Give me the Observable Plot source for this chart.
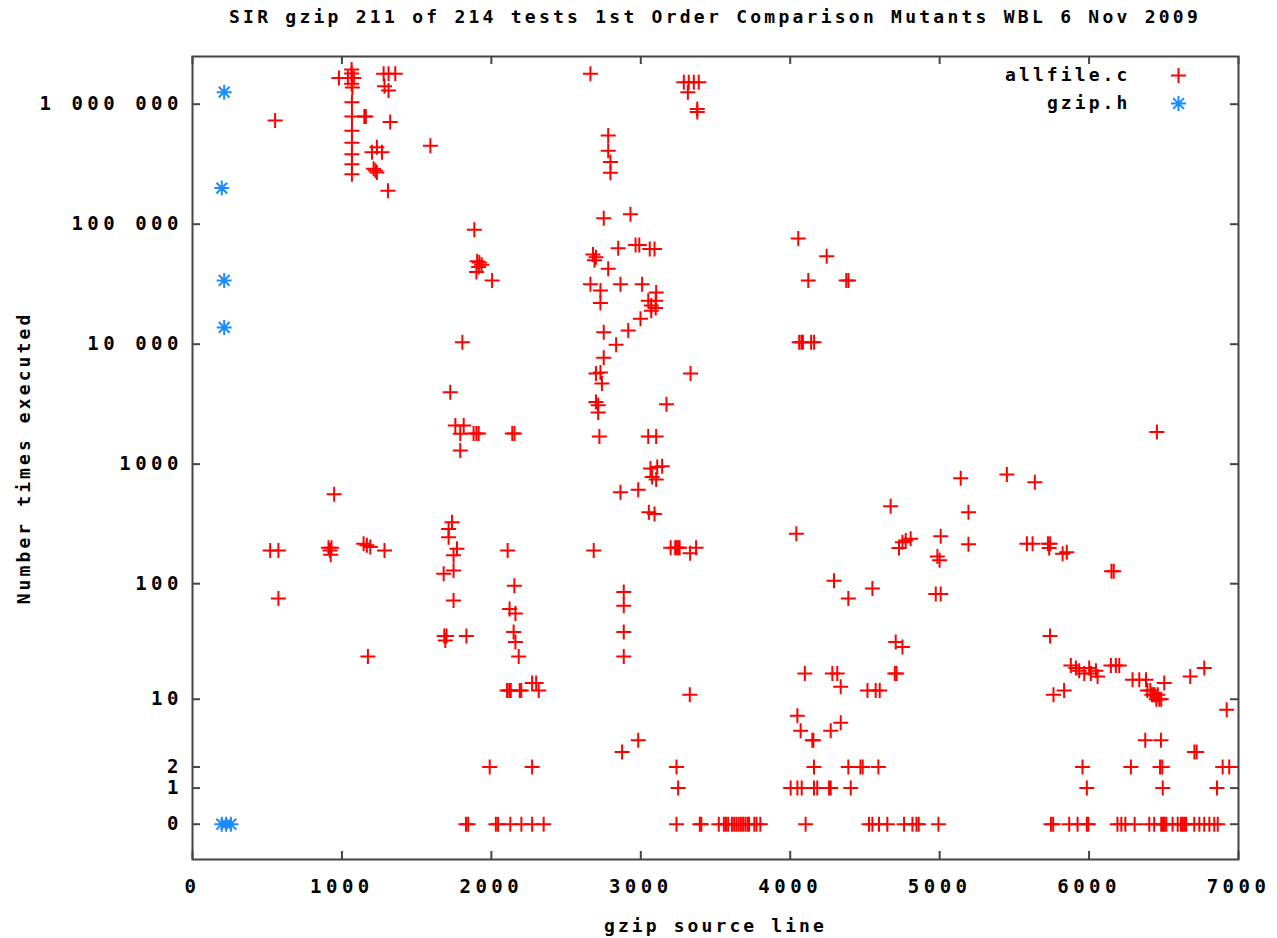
<!DOCTYPE html>
<html><head><meta charset="utf-8">
<script src="https://cdn.jsdelivr.net/npm/d3@7"></script>
<script src="https://cdn.jsdelivr.net/npm/@observablehq/plot@0.6"></script>
<style>
body{margin:0;background:#fff;}
#title{height:34px;line-height:34px;padding-left:192px;padding-right:39px;text-align:center;font-family:"DejaVu Sans Mono",monospace;font-weight:bold;font-size:18px;letter-spacing:3.25px;color:#000;white-space:nowrap;}
svg text{letter-spacing:3.1px;}
g[aria-label="x-axis tick label"] text, g[aria-label="y-axis tick label"] text{letter-spacing:4.5px;font-size:19px;}
</style></head><body>
<div id="title"></div>
<div id="chart"></div>
<script>
const titleText = "SIR gzip 211 of 214 tests 1st Order Comparison Mutants WBL 6 Nov 2009";
const xLabel = "gzip source line";
const yLabel = "Number times executed";
const seriesNames = ["allfile.c", "gzip.h"];

const xTicks = [0, 1000, 2000, 3000, 4000, 5000, 6000, 7000];
const xTickLabels = ["0", "1000", "2000", "3000", "4000", "5000", "6000", "7000"];
const yTicks = [0, 1, 2, 10, 100, 1000, 10000, 100000, 1000000];
const yTickLabels = ["0", "1", "2", "10", "100", "1000", "10 000", "100 000", "1 000 000"];

// allfile.c mutants: [source line, times executed]
const allfilePoints = [
  [980,1650000],[1040,1650000],[1065,1950000],[1065,1800000],[1080,1650000],[1065,1480000],[1070,1380000],
  [1067,1040000],[1067,790000],[1067,600000],[1067,477000],[1067,383000],[1067,316000],[1067,261000],
  [1150,790000],[1160,790000],[553,730000],
  [1279,1790000],[1312,1790000],[1357,1790000],[1285,1410000],[1312,1300000],[1323,710000],
  [1234,437000],[1201,398000],[1268,398000],[1212,290000],[1225,280000],[1234,270000],[1308,190000],[1592,450000],
  [2663,1790000],[3288,1520000],[3321,1520000],[3355,1520000],[3388,1520000],[3315,1260000],
  [3378,910000],[3378,860000],
  [2782,548000],[2782,410000],[2797,330000],[2797,268000],[2752,112000],[2931,121000],
  [1886,90000],[1905,49000],[1920,48000],[1935,46000],[1915,44000],[1900,40000],[2005,34000],
  [2680,56000],[2700,53000],[2690,50000],[2782,42500],[2849,63000],[2965,67000],[2990,67000],[3060,62000],[3092,62000],
  [2663,31600],[2730,28000],[2730,22000],[2864,31600],[3009,31600],[3103,27000],
  [3050,23000],[3070,21000],[3100,23000],[3100,20000],[3070,19000],
  [2998,16300],[2752,12600],[2916,13000],
  [2835,9900],[2752,7700],[1806,10400],
  [2700,5700],[2730,5800],[2740,4700],[3333,5700],
  [2700,3300],[2715,3100],[2715,2700],[3172,3160],
  [2723,1700],[3050,1700],[3103,1700],
  [3065,920],[3110,945],[3143,962],[3076,780],[3103,745],
  [2864,584],[2983,612],[3054,397],[3092,383],
  [1725,3980],[1759,2100],[1815,2100],[1792,1790],[1881,1800],[1900,1800],[1915,1800],[2140,1800],[2155,1800],[1792,1300],
  [1737,328],[1714,288],[1714,245],[1770,196],[1747,173],[1681,121],[1747,129],[1747,72],
  [520,190],[575,190],[910,200],[920,190],[930,200],[925,175],[948,560],
  [1145,216],[1167,210],[1190,203],[1285,190],[575,75],
  [2109,190],[2685,190],
  [3200,200],[3230,200],[3240,200],[3250,200],[3260,200],[3370,200],[3330,180],
  [2154,96],[2886,85],
  [1685,36],[1700,36],[1692,33],[1174,24],[1833,36],
  [2122,61],[2161,56],[2149,39],[2161,32],[2183,24],
  [2886,65],[2886,39],[2886,24],
  [2105,12],[2120,12],[2130,12],[2190,12],[2200,12],[2273,14],[2300,14],[2317,12],
  [3328,11],[2983,4],[2875,3],
  [1989,2],[2273,2],[3239,2],[3250,1],
  [1830,0],[1845,0],[2030,0],[2045,0],[2127,0],[2201,0],[2273,0],[2350,0],[3239,0],[3395,0],[3405,0],[3522,0],[3556,0],
  [3570,0],[3585,0],[3610,0],[3625,0],[3640,0],[3655,0],[3670,0],[3685,0],[3700,0],[3715,0],[3725,0],[3760,0],[3775,0],[3800,0],
  [4103,0],[4527,0],[4550,0],[4594,0],[4650,0],[4762,0],[4818,0],[4845,0],[4860,0],[4992,0],
  [4003,1],[4048,1],[4077,1],[4159,1],[4181,1],[4260,1],[4271,1],[4405,1],
  [4159,2],[4389,2],[4470,2],[4485,2],[4590,2],
  [4048,7],[4070,5],[4148,4],[4155,4],[4271,5],[4338,6],
  [4098,17],[4282,17],[4315,17],[4338,13],
  [4517,12],[4572,12],[4599,12],
  [4700,17],[4712,17],[4706,32],[4751,29],[4389,75],
  [4060,10400],[4075,10400],[4085,10400],[4140,10400],[4160,10400],
  [5141,764],[4672,446],[5193,397],[4041,262],
  [4751,223],[4773,230],[4806,238],[4728,199],[5007,250],[5193,214],
  [4985,169],[5000,157],[4293,106],[4550,91],[4974,82],[5007,82],
  [4054,76000],[4244,54000],[4121,34000],[4375,34000],[4390,34000],
  [6454,1850],[5450,820],[5637,707],[5584,216],[5622,216],[5725,216],[5740,216],[5733,199],[5823,178],[5851,184],[6150,127],[6165,127],
  [5739,36],
  [5878,20],[5912,19],[5934,18],[5968,17],[6001,19],[6012,17],[6057,16],[6046,18],
  [6146,20],[6179,20],[6202,20],
  [6291,15],[6336,15],[6381,15],[6503,14],
  [6390,12],[6410,12],[6420,11],[6430,11],[6440,11],[6450,10],[6460,11],[6470,10],[6483,10],
  [5762,11],[5833,12],[6677,16],[6771,19],[6921,8],
  [6376,4],[6481,4],[6705,3],[6720,3],
  [5956,2],[6280,2],[6475,2],[6490,2],[6894,2],[6938,2],
  [5985,1],[6493,1],[6856,1],
  [5745,0],[5760,0],[5867,0],[5923,0],[5985,0],[5995,0],[6190,0],[6216,0],[6243,0],[6305,0],
  [6403,0],[6436,0],[6483,0],[6495,0],[6505,0],[6517,0],[6559,0],[6593,0],[6615,0],[6628,0],[6640,0],[6650,0],
  [6704,0],[6738,0],[6771,0],[6805,0],[6838,0],[6861,0]
];
const allfileLine = allfilePoints.map(p => p[0]);
const allfileCount = allfilePoints.map(p => p[1]);

// gzip.h mutants
const gzipLine = [212, 196, 212, 212, 196, 225, 257];
const gzipCount = [1260000, 200000, 34000, 13800, 0, 0, 0];

const colors = {"allfile.c": "#ff0000", "gzip.h": "#1a8cff"};

const data = [
  ...allfileLine.map((x, i) => ({file: "allfile.c", line: x, count: allfileCount[i]})),
  ...gzipLine.map((x, i) => ({file: "gzip.h", line: x, count: gzipCount[i]}))
];

const plusSymbol = {draw(ctx, size) { const r = Math.sqrt(size / Math.PI);
  ctx.moveTo(-r, 0); ctx.lineTo(r, 0); ctx.moveTo(0, -r); ctx.lineTo(0, r); }};
const starSymbol = {draw(ctx, size) { const r = Math.sqrt(size / Math.PI); const d = r * 0.72;
  ctx.moveTo(-r, 0); ctx.lineTo(r, 0); ctx.moveTo(0, -r); ctx.lineTo(0, r);
  ctx.moveTo(-d, -d); ctx.lineTo(d, d); ctx.moveTo(-d, d); ctx.lineTo(d, -d); }};

document.getElementById("title").textContent = titleText;

const W = 1277, H = 904, mT = 22, mB = 79, mL = 192, mR = 39;
const FW = W - mL - mR, FH = H - mT - mB, TK = 8;
const frameColor = "#444";
const xLabelMap = new Map(xTicks.map((t, i) => [t, xTickLabels[i]]));
const yLabelMap = new Map(yTicks.map((t, i) => [t, yTickLabels[i]]));

const chart = Plot.plot({
  width: W, height: H,
  marginTop: mT, marginBottom: mB, marginLeft: mL, marginRight: mR,
  style: {fontFamily: "'DejaVu Sans Mono', monospace", fontWeight: "bold", fontSize: "18px", color: "#000", background: "#fff"},
  x: {domain: [0, 7000]},
  y: {type: "symlog", constant: 1, domain: [-0.968, 2497000]},
  marks: [
    Plot.ruleX(xTicks, {x: d => d, insetTop: FH - TK, stroke: frameColor, strokeWidth: 2}),
    Plot.ruleX(xTicks, {x: d => d, insetBottom: FH - TK, stroke: frameColor, strokeWidth: 2}),
    Plot.ruleY(yTicks, {y: d => d, insetRight: FW - TK, stroke: frameColor, strokeWidth: 2}),
    Plot.ruleY(yTicks, {y: d => d, insetLeft: FW - TK, stroke: frameColor, strokeWidth: 2}),
    Plot.frame({stroke: frameColor, strokeWidth: 2}),
    Plot.axisX(xTicks, {tickSize: 0, tickPadding: 20, tickFormat: d => xLabelMap.get(d),
      label: xLabel, labelAnchor: "center", labelOffset: 72, labelArrow: "none"}),
    Plot.axisY(yTicks, {tickSize: 0, tickPadding: 9.5, tickFormat: d => yLabelMap.get(d),
      label: yLabel, labelAnchor: "center", labelOffset: 175, labelArrow: "none"}),
    Plot.dot(data.filter(d => d.file === "allfile.c"), {x: "line", y: "count", symbol: plusSymbol, r: 7.5,
      stroke: colors["allfile.c"], strokeWidth: 2, fill: "none"}),
    Plot.dot(data.filter(d => d.file === "gzip.h"), {x: "line", y: "count", symbol: starSymbol, r: 7.5,
      stroke: colors["gzip.h"], strokeWidth: 2, fill: "none"}),
    Plot.text([seriesNames[0]], {text: d => d, frameAnchor: "top-right", dx: -108, dy: 19, textAnchor: "end", lineAnchor: "middle", fill: "#000"}),
    Plot.text([seriesNames[1]], {text: d => d, frameAnchor: "top-right", dx: -108, dy: 47, textAnchor: "end", lineAnchor: "middle", fill: "#000"}),
    Plot.dot([seriesNames[0]], {frameAnchor: "top-right", dx: -60, dy: 19, symbol: plusSymbol, r: 7.5, stroke: colors["allfile.c"], strokeWidth: 2, fill: "none"}),
    Plot.dot([seriesNames[1]], {frameAnchor: "top-right", dx: -60, dy: 47, symbol: starSymbol, r: 7.5, stroke: colors["gzip.h"], strokeWidth: 2, fill: "none"})
  ]
});
document.getElementById("chart").appendChild(chart);
</script></body></html>
